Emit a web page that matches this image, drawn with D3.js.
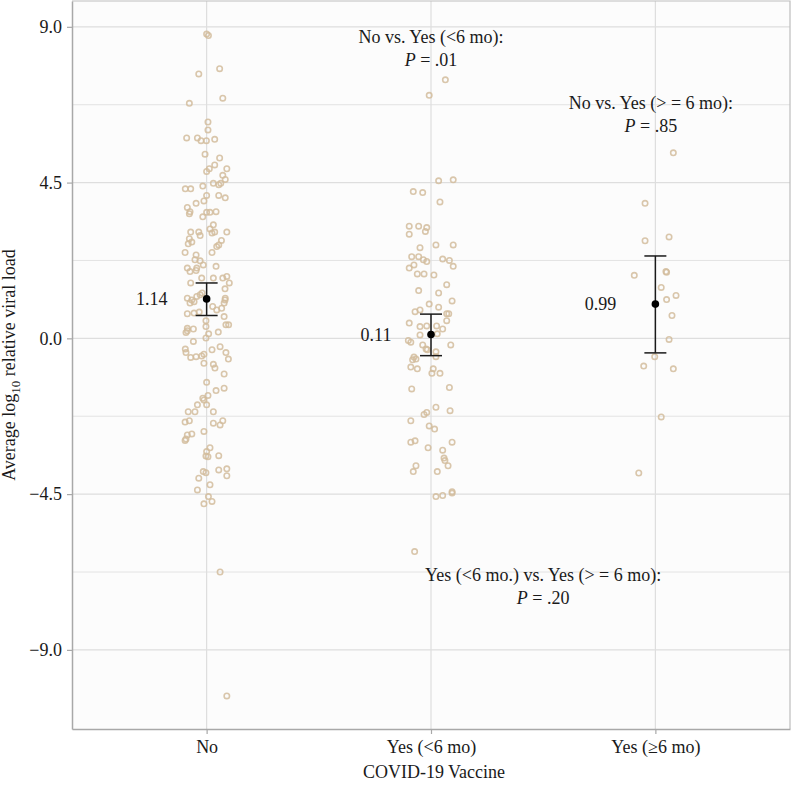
<!DOCTYPE html>
<html><head><meta charset="utf-8">
<script src="https://cdn.jsdelivr.net/npm/d3@7"></script>
<style>
html,body{margin:0;padding:0;background:#fff;}
text{font-family:"Liberation Serif","Times New Roman",serif;fill:#1a1a1a;}
</style></head>
<body>
<svg id="chart" width="792" height="785"></svg>
<script>
// ---------------- DATA ----------------
const categories = ["No", "Yes (<6 mo)", "Yes (≥6 mo)"];
const yTicks = [-9, -4.5, 0, 4.5, 9];

const noValues = [8.79,8.75,7.64,7.79,6.79,6.94,6.25,6.02,5.79,5.79,5.71,5.71,5.75,5.32,5.21,5.01,4.90,4.82,4.90,4.71,4.59,4.48,4.44,4.48,4.40,4.32,4.32,4.13,4.13,4.06,3.97,3.90,3.78,3.66,3.60,3.64,3.64,3.66,3.51,3.28,3.16,3.07,3.07,2.97,3.04,3.07,3.07,2.88,2.78,2.73,2.83,2.70,2.65,2.48,2.48,2.41,2.27,2.24,2.12,2.03,2.03,2.08,1.93,1.96,1.74,1.74,1.79,1.60,1.74,1.60,1.43,1.31,1.26,1.21,1.16,1.11,1.06,1.02,0.92,0.82,0.87,1.02,1.11,1.16,0.71,0.73,0.76,0.63,0.51,0.39,0.39,0.29,0.27,0.34,0.18,0.17,0.22,0.13,0.01,-0.09,-0.33,-0.24,-0.31,-0.41,-0.41,-0.60,-0.55,-0.53,-0.51,-0.46,-0.72,-0.75,-0.86,-1.03,-1.27,-1.51,-1.44,-1.65,-1.78,-1.73,-1.92,-1.92,-2.12,-2.12,-2.12,-2.42,-2.38,-2.45,-2.50,-2.38,-2.69,-2.76,-2.79,-2.91,-2.95,-3.27,-3.16,-3.40,-3.42,-3.39,-3.85,-3.88,-3.80,-3.77,-3.97,-4.04,-4.23,-4.38,-4.57,-4.78,-4.71,-6.75,-10.33];
const noJitter = [0.000,0.008,-0.035,0.058,-0.077,0.072,0.006,0.006,-0.089,-0.041,-0.025,-0.001,0.036,-0.007,0.058,0.036,0.012,0.000,0.090,0.072,0.083,0.030,0.054,0.063,-0.017,-0.095,-0.071,0.000,0.054,0.083,-0.012,-0.047,-0.086,-0.074,-0.077,0.000,0.015,0.042,-0.017,0.030,0.015,-0.071,-0.035,-0.029,0.024,0.036,0.090,-0.077,-0.066,-0.082,0.066,0.054,0.045,0.024,-0.096,-0.047,-0.052,-0.029,-0.015,-0.086,-0.044,0.042,-0.074,-0.047,0.030,0.072,0.090,0.101,-0.022,-0.071,0.082,-0.020,-0.029,-0.044,-0.086,-0.066,-0.056,-0.074,0.027,0.045,0.067,0.078,0.082,0.083,-0.086,-0.056,-0.033,0.078,-0.003,0.086,0.098,-0.086,-0.059,-0.003,0.052,-0.092,-0.086,0.009,-0.003,-0.059,0.024,0.060,-0.095,-0.092,0.086,0.097,-0.071,-0.047,-0.022,-0.012,-0.012,0.030,0.037,0.078,0.000,0.042,0.078,0.006,-0.012,-0.017,0.000,-0.041,-0.082,-0.052,0.030,-0.096,-0.077,0.030,0.060,0.072,-0.012,-0.066,-0.086,-0.092,-0.096,0.000,0.015,-0.003,0.006,0.054,-0.015,-0.003,0.054,0.090,0.090,-0.035,0.015,-0.041,0.008,-0.012,0.024,0.060,0.090];

const lt6Values = [7.47,7.02,4.55,4.58,4.24,4.21,3.94,3.24,3.24,3.20,3.09,3.01,2.62,2.70,2.70,2.36,2.36,2.27,2.22,2.29,2.25,2.08,2.03,2.12,1.86,1.86,1.83,1.55,1.38,1.31,1.08,0.99,0.90,0.77,0.82,0.71,0.71,0.44,0.51,0.34,0.36,0.36,0.27,0.10,0.13,-0.06,-0.11,-0.19,-0.19,-0.31,-0.33,-0.54,-0.60,-0.62,-0.39,-0.53,-0.83,-0.88,-0.88,-1.01,-1.01,-1.46,-1.42,-1.99,-2.09,-2.20,-2.14,-2.38,-2.53,-2.62,-3.00,-2.96,-3.00,-3.16,-3.23,-3.46,-3.53,-3.68,-3.68,-3.85,-3.85,-4.43,-4.47,-4.57,-4.54,-6.16];
const lt6Jitter = [0.064,-0.008,0.034,0.099,-0.079,-0.037,0.040,-0.097,-0.055,-0.019,-0.025,-0.097,-0.049,0.022,0.099,-0.086,-0.055,-0.034,-0.019,0.052,0.082,0.099,-0.097,-0.076,-0.061,-0.031,0.013,0.070,-0.055,0.034,0.094,-0.008,0.034,-0.071,-0.049,0.070,0.079,-0.097,0.070,-0.049,-0.019,0.025,0.052,-0.049,0.028,-0.101,-0.090,0.088,-0.037,-0.022,-0.016,-0.076,-0.067,-0.082,0.022,0.022,-0.090,-0.061,0.010,0.004,0.040,-0.086,0.082,0.022,0.085,-0.031,-0.019,-0.090,-0.008,0.016,-0.090,-0.071,0.094,-0.013,0.052,0.058,0.062,0.076,-0.067,-0.079,0.028,0.094,0.094,0.022,0.052,-0.073];

const ge6Values = [5.36,3.90,2.82,2.93,1.82,1.91,1.93,1.47,1.24,1.12,0.66,-0.03,-0.53,-0.80,-0.88,-2.27,-3.89];
const ge6Jitter = [0.080,-0.046,-0.046,0.061,-0.094,0.050,0.047,0.026,0.092,0.050,0.074,0.061,-0.003,-0.052,0.080,0.026,-0.074];

const means = [1.14, 0.11, 0.99];
const ciLower = [0.66, -0.50, -0.42];
const ciUpper = [1.60, 0.70, 2.38];
const meanLabels = ["1.14", "0.11", "0.99"];

const annotLine1 = ["No vs. Yes (<6 mo):", "No vs. Yes (> = 6 mo):", "Yes (<6 mo.) vs. Yes (> = 6 mo):"];
const annotPValue = [".01", ".85", ".20"];
const annotCat = [2, 2.98, 2.5];
const annotY = [8.71, 6.81, -6.84];

// ---------------- LAYOUT ----------------
const svg = d3.select("#chart");
const L = 72, R = 790, T = 1, B = 729;

const x = d3.scalePoint().domain(categories).range([L, R]).padding(0.6);
const step = x.step();
const xc = c => L + (c - 1 + 0.6) * step; // fractional category position

const allVals = noValues.concat(lt6Values, ge6Values);
const ext = d3.extent(allVals);
const pad = (ext[1] - ext[0]) * 0.05;
const y = d3.scaleLinear().domain([ext[0] - pad, ext[1] + pad]).range([B, T]);

// panel
svg.append("rect").attr("x", L).attr("y", T).attr("width", R - L).attr("height", B - T)
  .attr("fill", "#fcfcfc");

// minor gridlines
const minor = [];
for (let i = 0; i < yTicks.length - 1; i++) minor.push((yTicks[i] + yTicks[i + 1]) / 2);
svg.append("g").selectAll("line").data(minor).join("line")
  .attr("x1", L).attr("x2", R).attr("y1", d => y(d)).attr("y2", d => y(d))
  .attr("stroke", "#e3e3e3").attr("stroke-width", 1);
svg.append("g").selectAll("line").data(yTicks).join("line")
  .attr("x1", L).attr("x2", R).attr("y1", d => y(d)).attr("y2", d => y(d))
  .attr("stroke", "#dedede").attr("stroke-width", 1.2);
svg.append("g").selectAll("line").data(categories).join("line")
  .attr("x1", d => x(d)).attr("x2", d => x(d)).attr("y1", T).attr("y2", B)
  .attr("stroke", "#dedede").attr("stroke-width", 1.2);

// border top/right
svg.append("path").attr("d", `M${L},${T}H${R}V${B}`).attr("fill", "none")
  .attr("stroke", "#bdbdbd").attr("stroke-width", 1.2);

// points
const groups = [
  {cat: categories[0], v: noValues, j: noJitter},
  {cat: categories[1], v: lt6Values, j: lt6Jitter},
  {cat: categories[2], v: ge6Values, j: ge6Jitter}
];
const pts = [];
groups.forEach(g => g.v.forEach((v, i) => pts.push({cat: g.cat, v, j: g.j[i]})));
svg.append("g").selectAll("circle").data(pts).join("circle")
  .attr("cx", d => x(d.cat) + d.j * step)
  .attr("cy", d => y(d.v))
  .attr("r", 2.7)
  .attr("fill", "none")
  .attr("stroke", "#d2bc9c")
  .attr("stroke-opacity", 0.85)
  .attr("stroke-width", 1.6);

// error bars
const eb = svg.append("g");
categories.forEach((c, i) => {
  const cx = x(c), hw = 11;
  eb.append("line").attr("x1", cx).attr("x2", cx).attr("y1", y(ciLower[i])).attr("y2", y(ciUpper[i]))
    .attr("stroke", "#1a1a1a").attr("stroke-width", 1.5);
  eb.append("line").attr("x1", cx - hw).attr("x2", cx + hw).attr("y1", y(ciLower[i])).attr("y2", y(ciLower[i]))
    .attr("stroke", "#1a1a1a").attr("stroke-width", 1.5);
  eb.append("line").attr("x1", cx - hw).attr("x2", cx + hw).attr("y1", y(ciUpper[i])).attr("y2", y(ciUpper[i]))
    .attr("stroke", "#1a1a1a").attr("stroke-width", 1.5);
  eb.append("circle").attr("cx", cx).attr("cy", y(means[i])).attr("r", 3.8).attr("fill", "#000");
  eb.append("text").attr("x", cx - 55).attr("y", y(means[i])).attr("dy", "0.35em")
    .attr("text-anchor", "middle").attr("font-size", 18).text(meanLabels[i]);
});

// annotations
annotLine1.forEach((t, i) => {
  const ax = xc(annotCat[i]), ay = y(annotY[i]);
  svg.append("text").attr("x", ax).attr("y", ay).attr("dy", "0.35em")
    .attr("text-anchor", "middle").attr("font-size", 18).text(t);
  const t2 = svg.append("text").attr("x", ax).attr("y", ay + 23).attr("dy", "0.35em")
    .attr("text-anchor", "middle").attr("font-size", 18);
  t2.append("tspan").attr("font-style", "italic").text("P");
  t2.append("tspan").text(" = " + annotPValue[i]);
});

// axes
const yAxis = svg.append("g").attr("transform", `translate(${L},0)`)
  .call(d3.axisLeft(y).tickValues(yTicks).tickFormat(d3.format(".1f")).tickSize(5).tickSizeOuter(0).tickPadding(5));
const xAxis = svg.append("g").attr("transform", `translate(0,${B})`)
  .call(d3.axisBottom(x).tickSize(5).tickSizeOuter(0).tickPadding(6));
[yAxis, xAxis].forEach(a => {
  a.select(".domain").attr("stroke", "#a8a8a8").attr("stroke-width", 1.5);
  a.selectAll(".tick line").attr("stroke", "#a8a8a8").attr("stroke-width", 1.2);
  a.selectAll(".tick text").attr("font-size", 18).attr("fill", "#1a1a1a")
    .attr("font-family", "Liberation Serif, serif");
});

// titles
svg.append("text").attr("x", (L + R) / 2 + 3).attr("y", 778).attr("text-anchor", "middle")
  .attr("font-size", 18).text("COVID-19 Vaccine");
const yt = svg.append("text").attr("transform", `translate(15,${(T + B) / 2}) rotate(-90)`)
  .attr("text-anchor", "middle").attr("font-size", 18);
yt.append("tspan").text("Average log");
yt.append("tspan").attr("font-size", 13).attr("dy", 5).text("10");
yt.append("tspan").attr("dy", -5).text(" relative viral load");
</script>
</body></html>
